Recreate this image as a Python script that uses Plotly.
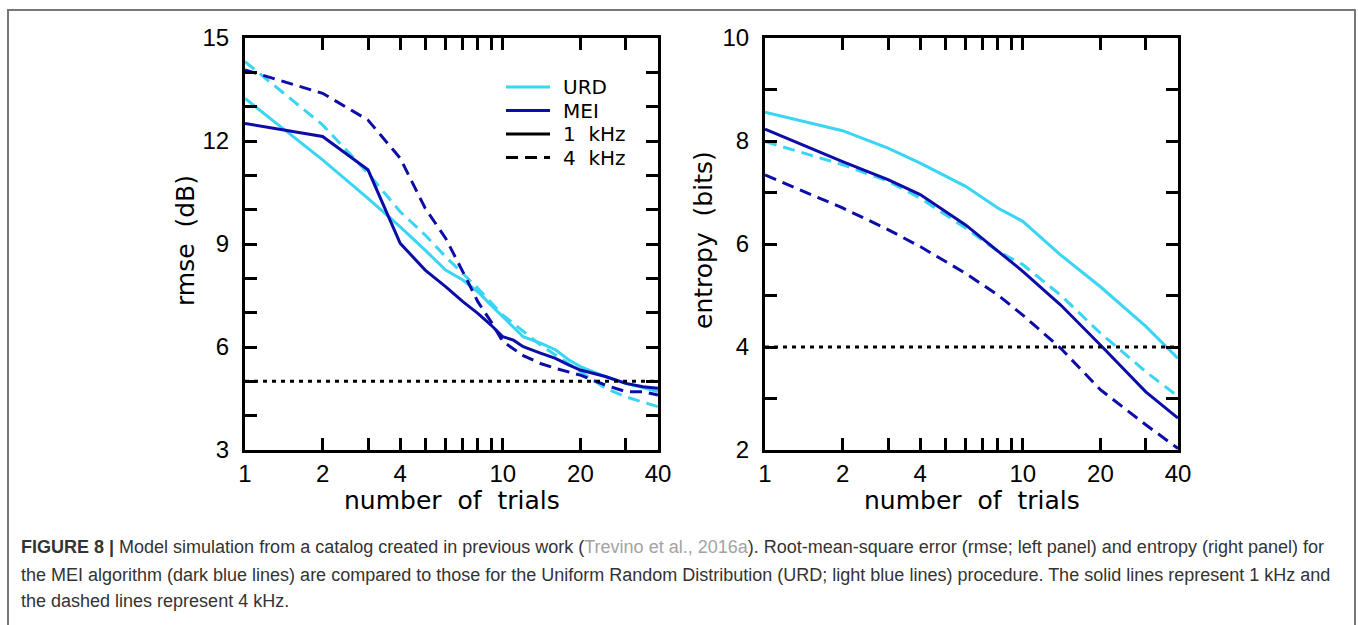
import math
import plotly.graph_objects as go

# ---------------- data ----------------
# Left panel: rmse (dB) vs number of trials
rmse_urd_1k_x = [1, 2, 3, 4, 5, 6, 7, 8, 9, 10, 12, 14, 16, 18, 20, 25, 30, 40]
rmse_urd_1k_y = [13.24, 11.45, 10.33, 9.50, 8.82, 8.24, 7.95, 7.61, 7.22, 6.88, 6.30, 6.11, 5.92, 5.63, 5.43, 5.14, 4.94, 4.70]

rmse_urd_4k_x = [1, 2, 3, 4, 5, 6, 7, 8, 10, 12, 14, 16, 20, 25, 30, 40]
rmse_urd_4k_y = [14.31, 12.47, 11.06, 9.94, 9.26, 8.63, 8.14, 7.71, 6.93, 6.45, 6.06, 5.77, 5.28, 4.80, 4.55, 4.26]

rmse_mei_1k_x = [1, 2, 3, 4, 5, 6, 7, 8, 9, 10, 11, 12, 14, 16, 18, 20, 25, 30, 35, 40]
rmse_mei_1k_y = [12.51, 12.13, 11.16, 9.02, 8.24, 7.76, 7.32, 6.98, 6.64, 6.30, 6.20, 6.01, 5.82, 5.67, 5.48, 5.33, 5.14, 4.94, 4.84, 4.80]

rmse_mei_4k_x = [1, 2, 3, 4, 5, 6, 7, 8, 9, 10, 12, 14, 16, 20, 25, 30, 35, 40]
rmse_mei_4k_y = [14.07, 13.39, 12.61, 11.50, 10.04, 9.17, 8.19, 7.32, 6.74, 6.16, 5.75, 5.52, 5.38, 5.18, 4.89, 4.70, 4.70, 4.60]

rmse_ref = 5.0

# Right panel: entropy (bits) vs number of trials
ent_x = [1, 2, 3, 4, 6, 8, 10, 14, 20, 30, 40]
ent_urd_1k = [8.56, 8.20, 7.86, 7.57, 7.12, 6.70, 6.44, 5.79, 5.17, 4.40, 3.78]
ent_urd_4k = [7.99, 7.54, 7.22, 6.89, 6.31, 5.86, 5.60, 5.01, 4.27, 3.52, 3.04]
ent_mei_1k = [8.23, 7.60, 7.25, 6.96, 6.37, 5.86, 5.47, 4.82, 4.04, 3.13, 2.62]
ent_mei_4k = [7.34, 6.70, 6.28, 5.95, 5.43, 5.01, 4.62, 3.98, 3.17, 2.49, 2.03]

ent_ref = 4.0

x_tickvals = [1, 2, 3, 4, 5, 6, 7, 8, 9, 10, 20, 30, 40]
x_ticktext = ["1", "2", "", "4", "", "", "", "", "", "10", "20", "", "40"]
rmse_tickvals = list(range(3, 16))
rmse_ticktext = [str(v) if v % 3 == 0 else "" for v in rmse_tickvals]
ent_tickvals = list(range(2, 11))
ent_ticktext = [str(v) if v % 2 == 0 else "" for v in ent_tickvals]

legend_labels = ["URD", "MEI", "1\u00a0\u00a0kHz", "4\u00a0\u00a0kHz"]

caption_lines = [
    "<b>FIGURE 8 |</b> Model simulation from a catalog created in previous work "
    "(<span style='color:#a3a3a3'>Trevino et al., 2016a</span>). Root-mean-square error "
    "(rmse; left panel) and entropy (right panel) for",
    "the MEI algorithm (dark blue lines) are compared to those for the Uniform Random "
    "Distribution (URD; light blue lines) procedure. The solid lines represent 1 kHz and",
    "the dashed lines represent 4 kHz.",
]

# ---------------- style ----------------
W, H = 1358, 625
CYAN = "#3AD4F4"
DARK = "#0C0CA8"
LW = 3
DASH = "12px,7px"
DOT = "4px,5px"

def px(x):
    return x / W

def py(y):
    return 1 - y / H

fig = go.Figure()

def add(x, y, color, dash, xa, ya):
    fig.add_trace(go.Scatter(x=x, y=y, mode="lines", xaxis=xa, yaxis=ya,
                             line=dict(color=color, width=LW, dash=dash),
                             showlegend=False, hoverinfo="skip"))

# left
add(rmse_urd_1k_x, rmse_urd_1k_y, CYAN, "solid", "x", "y")
add(rmse_urd_4k_x, rmse_urd_4k_y, CYAN, DASH, "x", "y")
add(rmse_mei_1k_x, rmse_mei_1k_y, DARK, "solid", "x", "y")
add(rmse_mei_4k_x, rmse_mei_4k_y, DARK, DASH, "x", "y")
add([1, 40], [rmse_ref, rmse_ref], "black", DOT, "x", "y")
# right
add(ent_x, ent_urd_1k, CYAN, "solid", "x2", "y2")
add(ent_x, ent_urd_4k, CYAN, DASH, "x2", "y2")
add(ent_x, ent_mei_1k, DARK, "solid", "x2", "y2")
add(ent_x, ent_mei_4k, DARK, DASH, "x2", "y2")
add([1, 40], [ent_ref, ent_ref], "black", DOT, "x2", "y2")

TICKFONT = dict(family="Liberation Sans, Arial, sans-serif", size=24, color="black")
TITLEFONT = dict(family="DejaVu Sans, sans-serif", size=25, color="black")

def xax(domain, anchor):
    return dict(type="log", range=[0, math.log10(40)], domain=domain, anchor=anchor,
                tickmode="array", tickvals=x_tickvals, ticktext=x_ticktext,
                ticks="inside", ticklen=12, tickwidth=2.5, tickcolor="black",
                showline=True, linewidth=3, linecolor="black", mirror="ticks",
                showgrid=False, zeroline=False, tickfont=TICKFONT, ticklabelstandoff=0)

def yax(rng, tv, tt, domain, anchor):
    return dict(range=rng, domain=domain, anchor=anchor,
                tickmode="array", tickvals=tv, ticktext=tt,
                ticks="inside", ticklen=12, tickwidth=2.5, tickcolor="black",
                showline=True, linewidth=3, linecolor="black", mirror="ticks",
                showgrid=False, zeroline=False, tickfont=TICKFONT, ticklabelstandoff=8)

ydom = [py(450), py(38)]
fig.update_layout(
    width=W, height=H,
    margin=dict(l=0, r=0, t=0, b=0, autoexpand=False),
    paper_bgcolor="white", plot_bgcolor="white",
    xaxis=xax([px(245), px(658)], "y"),
    yaxis=yax([3, 15], rmse_tickvals, rmse_ticktext, ydom, "x"),
    xaxis2=xax([px(765), px(1178)], "y2"),
    yaxis2=yax([2, 10], ent_tickvals, ent_ticktext, ydom, "x2"),
    showlegend=False,
)

annotations = []
shapes = []
# axis titles
for cx in [(245 + 658) / 2, (765 + 1178) / 2]:
    annotations.append(dict(text="number\u00a0\u00a0of\u00a0\u00a0trials", x=px(cx), y=py(500),
                            xref="paper", yref="paper", showarrow=False,
                            xanchor="center", yanchor="middle", font=TITLEFONT))
annotations.append(dict(text="rmse\u00a0\u00a0(dB)", x=px(185), y=py(240), xref="paper", yref="paper",
                        showarrow=False, textangle=-90, xanchor="center", yanchor="middle",
                        font=TITLEFONT))
annotations.append(dict(text="entropy\u00a0\u00a0(bits)", x=px(703), y=py(240), xref="paper", yref="paper",
                        showarrow=False, textangle=-90, xanchor="center", yanchor="middle",
                        font=TITLEFONT))

# legend (key lines + labels)
legend_styles = [(CYAN, "solid"), (DARK, "solid"), ("black", "solid"), ("black", DASH)]
for i, (lab, (col, dsh)) in enumerate(zip(legend_labels, legend_styles)):
    yy = 87 + i * 23.5
    shapes.append(dict(type="line", xref="paper", yref="paper",
                       x0=px(506), x1=px(550), y0=py(yy), y1=py(yy),
                       line=dict(color=col, width=LW, dash=dsh)))
    annotations.append(dict(text=lab, x=px(561), y=py(yy), xref="paper", yref="paper",
                            showarrow=False, xanchor="left", yanchor="middle",
                            font=dict(family="DejaVu Sans, sans-serif", size=20, color="black")))

# caption
for line, yy in zip(caption_lines, [547, 575, 601]):
    annotations.append(dict(text=line, x=px(19), y=py(yy), xref="paper", yref="paper",
                            showarrow=False, xanchor="left", yanchor="middle", align="left",
                            font=dict(family="Liberation Sans, Arial, sans-serif",
                                      size=18, color="#333333")))

# outer figure border
shapes.append(dict(type="rect", xref="paper", yref="paper",
                   x0=px(8), x1=px(1355), y0=py(640), y1=py(10),
                   line=dict(color="#777777", width=2), fillcolor="rgba(0,0,0,0)", layer="below"))

fig.update_layout(annotations=annotations, shapes=shapes)

fig.write_html("out.html")
